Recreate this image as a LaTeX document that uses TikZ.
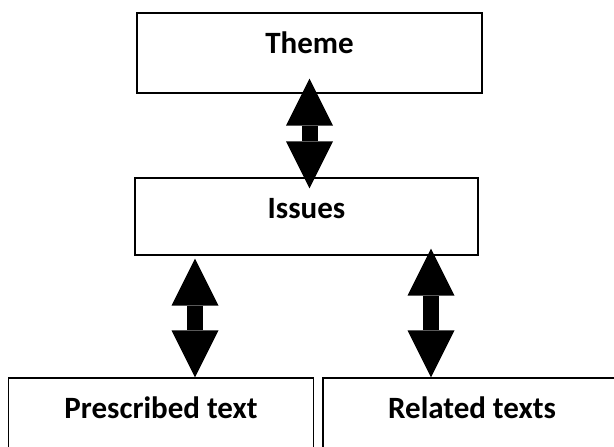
\documentclass[tikz,border=0pt]{standalone}
\usepackage{fontspec}
\setmainfont{Carlito}
\usetikzlibrary{arrows.meta,calc}
\tikzstyle{box}=[draw=black,line width=1.3pt,rectangle,inner xsep=0pt,inner ysep=0pt,
  text height=22pt,text depth=0pt,font=\fontsize{31}{37}\selectfont\bfseries]
\tikzstyle{bigarrow}=[line width=16pt,
  {Triangle[width=47pt,length=47pt,line width=0pt]}-{Triangle[width=47pt,length=47pt,line width=0pt]}]

\begin{document}
\begin{tikzpicture}[x=1pt,y=-1pt]
  \useasboundingbox (0,0) rectangle (614,447);
  \clip (0,0) rectangle (614,447);
% boxes
  \node[box,minimum width=345pt,text height=40pt,text depth=40pt,anchor=base] (theme) at (309.5,53) {Theme};
  \node[box,minimum width=343pt,text height=40pt,text depth=37pt,anchor=base] (issues) at (306.5,218) {Issues};
  \node[box,minimum width=305pt,text height=40pt,text depth=90pt,anchor=base] (prescribed) at (161,418) {Prescribed text};
  \node[box,minimum width=298pt,text height=40pt,text depth=90pt,anchor=base] (related) at (472,418) {Related texts};
% arrows
  \draw[bigarrow] ([yshift=15pt]theme.south) -- ([yshift=-11pt]theme.south |- issues.north);
  \draw[bigarrow] ($(prescribed.north |- issues.south)+(34,3)$) -- ([xshift=34pt]prescribed.north);
  \draw[bigarrow] ($(related.north |- issues.south)+(-41,-7)$) -- ([xshift=-41pt]related.north);
\end{tikzpicture}
\end{document}
